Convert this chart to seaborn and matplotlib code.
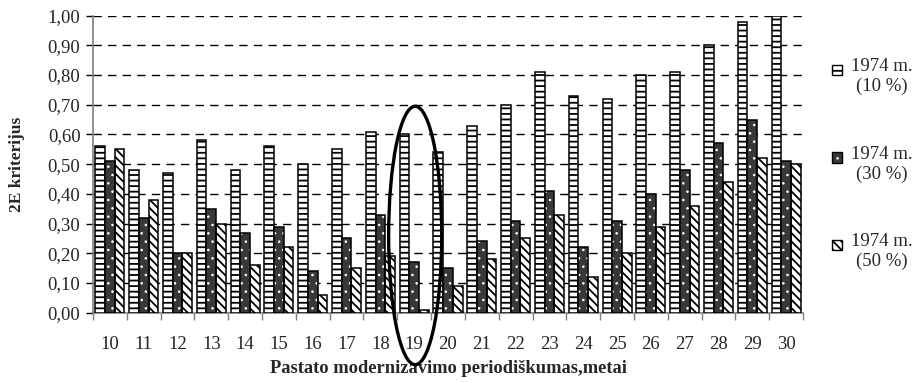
import numpy as np
import pandas as pd
import seaborn as sns
import matplotlib
matplotlib.use("Agg")
import matplotlib.pyplot as plt
from matplotlib.patches import Rectangle, Patch, Ellipse
from matplotlib.legend_handler import HandlerBase
from matplotlib.ticker import FuncFormatter, FixedLocator

periods = [10, 11, 12, 13, 14, 15, 16, 17, 18, 19, 20, 21, 22, 23, 24, 25, 26, 27, 28, 29, 30]
series_labels = ["1974 m.\n(10 %)", "1974 m.\n(30 %)", "1974 m.\n(50 %)"]
vals_10 = [0.56, 0.48, 0.47, 0.58, 0.48, 0.56, 0.50, 0.55, 0.61, 0.60, 0.54,
           0.63, 0.70, 0.81, 0.73, 0.72, 0.80, 0.81, 0.90, 0.98, 1.00]
vals_30 = [0.51, 0.32, 0.20, 0.35, 0.27, 0.29, 0.14, 0.25, 0.33, 0.17, 0.15,
           0.24, 0.31, 0.41, 0.22, 0.31, 0.40, 0.48, 0.57, 0.65, 0.51]
vals_50 = [0.55, 0.38, 0.20, 0.30, 0.16, 0.22, 0.06, 0.15, 0.19, 0.01, 0.09,
           0.18, 0.25, 0.33, 0.12, 0.20, 0.29, 0.36, 0.44, 0.52, 0.50]
highlight_period = 19

df = pd.DataFrame({
    "period": np.tile([str(p) for p in periods], 3),
    "value": vals_10 + vals_30 + vals_50,
    "series": np.repeat(series_labels, len(periods)),
})

sns.set_theme(style="white")
plt.rcParams["font.family"] = ["Liberation Serif", "DejaVu Serif"]
plt.rcParams["hatch.linewidth"] = 1.3

DARK = "#383838"


def thin_dots(patch):
    # finer white specks on the dark bars
    if hasattr(patch, "set_hatch_linewidth"):
        patch.set_hatch_linewidth(0.6)


fig = plt.figure(figsize=(9.15, 3.82), dpi=100)
ax = fig.add_axes([0.1016, 0.1814, 0.776, 0.7776])

sns.barplot(data=df, x="period", y="value", hue="series", hue_order=series_labels,
            palette=["white", DARK, "white"], width=0.86, gap=0,
            edgecolor="black", linewidth=1.1, legend=False, ax=ax, zorder=3)

# pattern fills for each series
c10, c30, c50 = ax.containers
for p in c10:
    p.set_hatch("---")
for p in c50:
    p.set_hatch("\\\\\\\\")
for p in c30:
    p.set_edgecolor("white")
    p.set_hatch("..")
    thin_dots(p)
    p.set_linewidth(0)
    ax.add_patch(Rectangle(p.get_xy(), p.get_width(), p.get_height(),
                           fill=False, edgecolor="black", linewidth=1.1, zorder=4))

ax.set_xlim(-0.5, len(periods) - 0.5)
ax.set_ylim(0, 1.0)
ax.yaxis.set_major_locator(FixedLocator(np.round(np.arange(0, 1.01, 0.1), 2)))
ax.yaxis.set_major_formatter(FuncFormatter(lambda v, _: f"{v:.2f}".replace(".", ",")))

# dashed grid lines
for yv in np.arange(0.1, 1.01, 0.1):
    ax.axhline(yv, color="black", linewidth=1.0, linestyle=(0, (6, 4.5)), zorder=1)

for s in ["top", "right"]:
    ax.spines[s].set_visible(False)
for s in ["left", "bottom"]:
    ax.spines[s].set_color("#7f7f7f")
    ax.spines[s].set_linewidth(1.2)

ax.tick_params(axis="y", which="major", direction="out", length=5, width=1,
               color="black", labelsize=13.5, pad=4, left=True)
ax.set_xticks(np.arange(len(periods)))
ax.set_xticklabels([str(p) for p in periods])
ax.tick_params(axis="x", which="major", length=0, labelsize=13.5, pad=17)
ax.set_xticks(np.arange(-0.5, len(periods)), minor=True)
ax.tick_params(axis="x", which="minor", direction="out", length=5, width=1,
               color="#7f7f7f", bottom=True)

ax.set_xlabel("Pastato modernizavimo periodiškumas,metai", fontsize=13.3,
              fontweight="bold", labelpad=5)
ax.set_ylabel("2E kriterijus", fontsize=12.5, fontweight="bold", labelpad=16)

# ring around the highlighted period
hx = periods.index(highlight_period)
ax.add_patch(Ellipse((hx + 0.03, 0.26), width=1.57, height=0.87, fill=False,
                     edgecolor="black", linewidth=2.4, clip_on=False, zorder=6))


class TopSquare(HandlerBase):
    def create_artists(self, legend, orig_handle, xdescent, ydescent, width,
                       height, fontsize, trans):
        size = 0.55 * fontsize
        x0 = -xdescent
        y0 = -ydescent + height - size - 0.12 * fontsize
        arts = []
        if getattr(orig_handle, "white_hatch", False):
            r = Rectangle((x0, y0), size, size, facecolor=orig_handle.get_facecolor(),
                          edgecolor="white", hatch=orig_handle.get_hatch(),
                          linewidth=0, transform=trans)
            thin_dots(r)
            arts.append(r)
            arts.append(Rectangle((x0, y0), size, size, fill=False, edgecolor="black",
                                  linewidth=1.0, transform=trans))
        else:
            arts.append(Rectangle((x0, y0), size, size,
                                  facecolor=orig_handle.get_facecolor(),
                                  edgecolor="black", hatch=orig_handle.get_hatch(),
                                  linewidth=1.0, transform=trans))
        return arts


h10 = Patch(facecolor="white", hatch="--")
h30 = Patch(facecolor=DARK, hatch="..")
h30.white_hatch = True
h50 = Patch(facecolor="white", hatch="\\\\\\\\")
leg = ax.legend([h10, h30, h50], series_labels, handler_map={Patch: TopSquare()},
                loc="center left", bbox_to_anchor=(1.03, 0.5), frameon=False,
                fontsize=13.5, handlelength=0.55, handleheight=2.0, handletextpad=0.45,
                labelspacing=2.7, borderaxespad=0)
for t in leg.get_texts():
    t.set_multialignment("center")

fig.savefig("out.png", dpi=100)
